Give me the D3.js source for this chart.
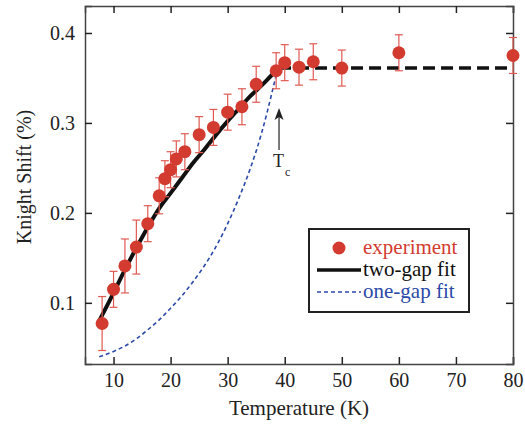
<!DOCTYPE html>
<html>
<head>
<meta charset="utf-8">
<script src="https://cdn.jsdelivr.net/npm/d3@7"></script>
<style>
  body { margin: 0; background: #fff; }
  text { font-family: "Liberation Serif", "DejaVu Serif", serif; }
</style>
</head>
<body>
<div id="canvas"></div>
<script>
// measured points
const temps = [8, 10, 12, 14, 16, 18, 19, 20, 21, 22.5, 25, 27.5, 30, 32.5, 35, 38.5, 40, 42.5, 45, 50, 60, 80];
const shift = [0.077, 0.115, 0.141, 0.162, 0.188, 0.219, 0.238, 0.248, 0.260, 0.268, 0.287, 0.295, 0.312, 0.318, 0.343, 0.358, 0.367, 0.362, 0.368, 0.361, 0.378, 0.375];
const shiftErr = [0.03, 0.02, 0.03, 0.03, 0.02, 0.02, 0.02, 0.02, 0.02, 0.02, 0.02, 0.02, 0.02, 0.02, 0.02, 0.02, 0.02, 0.02, 0.02, 0.02, 0.02, 0.02];

// fits
const twoGapT = [7.5, 10, 12, 14, 16, 18, 20, 22, 24, 26, 28, 30, 32, 34, 36, 38, 39];
const twoGapK = [0.080, 0.111, 0.137, 0.161, 0.184, 0.205, 0.222, 0.239, 0.256, 0.271, 0.287, 0.302, 0.316, 0.330, 0.342, 0.355, 0.361];
const oneGapT = [7.5, 10, 12, 14, 16, 18, 20, 22, 24, 26, 28, 30, 32, 34, 36, 37, 38, 38.8];
const oneGapK = [0.040, 0.046, 0.052, 0.060, 0.070, 0.081, 0.094, 0.108, 0.124, 0.142, 0.163, 0.188, 0.217, 0.250, 0.290, 0.314, 0.340, 0.361];
const normalT = [39, 80];
const normalK = [0.361, 0.361];

const xTicks = [10, 20, 30, 40, 50, 60, 70, 80];
const yTicks = [0.1, 0.2, 0.3, 0.4];
const Tc = 39;

const W = 525, H = 424;
const margin = { top: 6, right: 12, bottom: 60, left: 85 };

const svg = d3.select("#canvas").append("svg")
    .attr("width", W)
    .attr("height", H);

const x = d3.scaleLinear().domain([5, 80]).range([margin.left, W - margin.right]);
const y = d3.scaleLinear().domain([0.032, 0.43]).range([H - margin.bottom, margin.top]);

const red = "#d33b30", blue = "#2b4aa8", axisCol = "#444";

// axes with inward ticks, mirrored on top/right
const tickLen = 7;
svg.append("g")
    .attr("transform", `translate(0,${y.range()[0]})`)
    .call(d3.axisBottom(x).tickValues(xTicks).tickSize(-tickLen).tickPadding(9).tickFormat(d3.format("d")))
    .call(g => g.selectAll("text").style("font-size", "20px").attr("fill", "#222"));
svg.append("g")
    .attr("transform", `translate(0,${y.range()[1]})`)
    .call(d3.axisTop(x).tickValues(xTicks).tickSize(-tickLen).tickFormat(""));
svg.append("g")
    .attr("transform", `translate(${x.range()[0]},0)`)
    .call(d3.axisLeft(y).tickValues(yTicks).tickSize(-tickLen).tickPadding(10).tickFormat(d3.format(".1f")))
    .call(g => g.selectAll("text").style("font-size", "20px").attr("fill", "#222"));
svg.append("g")
    .attr("transform", `translate(${x.range()[1]},0)`)
    .call(d3.axisRight(y).tickValues(yTicks).tickSize(-tickLen).tickFormat(""));

svg.selectAll(".domain").attr("stroke", axisCol).attr("stroke-width", 1.5);
svg.selectAll(".tick line").attr("stroke", "#222").attr("stroke-width", 1.5);

// axis titles
svg.append("text")
    .text("Temperature (K)")
    .attr("x", (x.range()[0] + x.range()[1]) / 2)
    .attr("y", 415)
    .attr("text-anchor", "middle")
    .attr("fill", "#222")
    .style("font-size", "21px");

svg.append("text")
    .text("Knight Shift (%)")
    .attr("transform", "translate(31,177) rotate(-90)")
    .attr("text-anchor", "middle")
    .attr("fill", "#222")
    .style("font-size", "20px");

// fit lines
const line = d3.line().x(d => x(d[0])).y(d => y(d[1])).curve(d3.curveMonotoneX);

svg.append("path")
    .datum(oneGapT.map((t, i) => [t, oneGapK[i]]))
    .attr("d", line)
    .attr("fill", "none")
    .attr("stroke", blue)
    .attr("stroke-width", 1.6)
    .attr("stroke-dasharray", "4,3");

svg.append("path")
    .datum(twoGapT.map((t, i) => [t, twoGapK[i]]))
    .attr("d", line)
    .attr("fill", "none")
    .attr("stroke", "#111")
    .attr("stroke-width", 4);

svg.append("path")
    .datum(normalT.map((t, i) => [t, normalK[i]]))
    .attr("d", line)
    .attr("fill", "none")
    .attr("stroke", "#111")
    .attr("stroke-width", 3.5)
    .attr("stroke-dasharray", "12,6");

// error bars + points
const pts = temps.map((t, i) => ({ t, k: shift[i], e: shiftErr[i] }));
const eb = svg.append("g").attr("stroke", "#e05a52").attr("stroke-width", 1.2);
pts.forEach(d => {
    const cx = x(d.t);
    eb.append("line").attr("x1", cx).attr("x2", cx).attr("y1", y(d.k - d.e)).attr("y2", y(d.k + d.e));
    eb.append("line").attr("x1", cx - 4).attr("x2", cx + 4).attr("y1", y(d.k - d.e)).attr("y2", y(d.k - d.e));
    eb.append("line").attr("x1", cx - 4).attr("x2", cx + 4).attr("y1", y(d.k + d.e)).attr("y2", y(d.k + d.e));
});

svg.append("g").selectAll("circle")
    .data(pts)
    .enter()
    .append("circle")
    .attr("cx", d => x(d.t))
    .attr("cy", d => y(d.k))
    .attr("r", 6.5)
    .attr("fill", red);

// Tc arrow
const ax = x(Tc);
svg.append("line")
    .attr("x1", ax).attr("x2", ax)
    .attr("y1", 150).attr("y2", 116)
    .attr("stroke", "#333").attr("stroke-width", 1.3);
svg.append("path")
    .attr("d", `M${ax},108 L${ax - 4.5},120 L${ax},117 L${ax + 4.5},120 Z`)
    .attr("fill", "#222");
const tc = svg.append("text")
    .attr("x", ax - 6)
    .attr("y", 167)
    .attr("fill", "#222")
    .style("font-size", "18px");
tc.append("tspan").text("T");
tc.append("tspan").text("c").attr("dx", 1).attr("dy", 9).style("font-size", "12px");

// legend
const legend = svg.append("g");
legend.append("rect")
    .attr("x", 309).attr("y", 229)
    .attr("width", 160).attr("height", 83)
    .attr("fill", "#fff")
    .attr("stroke", "#222")
    .attr("stroke-width", 2);

const legItems = [
    { label: "experiment", color: red, kind: "dot" },
    { label: "two-gap fit", color: "#111", kind: "solid" },
    { label: "one-gap fit", color: blue, kind: "dash" }
];
legItems.forEach((it, i) => {
    const ly = 248 + i * 22;
    if (it.kind === "dot") {
        legend.append("circle").attr("cx", 339).attr("cy", ly).attr("r", 6.5).attr("fill", it.color);
    } else {
        legend.append("line")
            .attr("x1", 317).attr("x2", 361)
            .attr("y1", ly).attr("y2", ly)
            .attr("stroke", it.color)
            .attr("stroke-width", it.kind === "solid" ? 3.5 : 1.6)
            .attr("stroke-dasharray", it.kind === "solid" ? null : "4,3");
    }
    legend.append("text")
        .text(it.label)
        .attr("x", 363)
        .attr("y", ly + 6)
        .attr("fill", it.color)
        .style("font-size", "21px");
});
</script>
</body>
</html>
